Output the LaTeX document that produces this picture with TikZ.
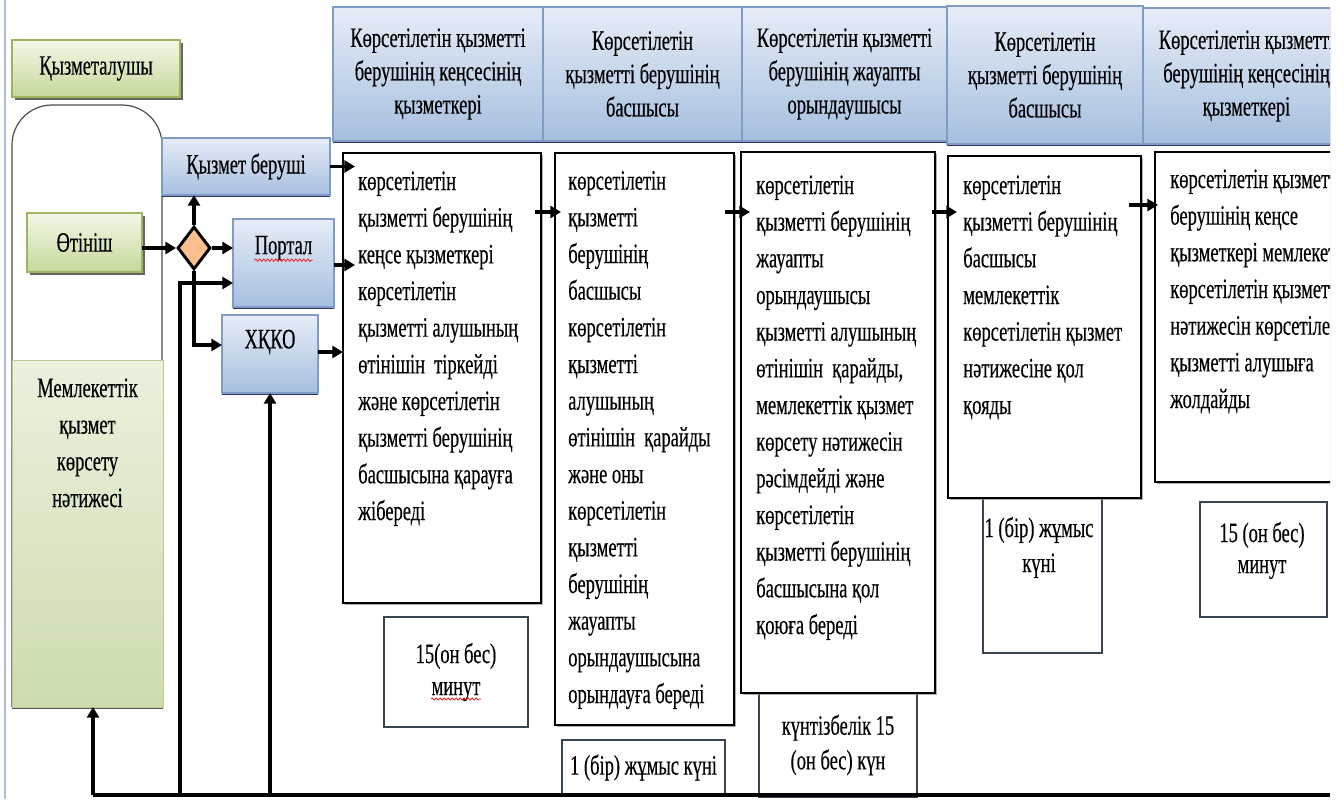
\documentclass[tikz,border=0pt]{standalone}
\usepackage{fontspec}
\setmainfont{Liberation Serif}[FakeStretch=0.66,FakeBold=0.3]
\usetikzlibrary{arrows.meta,shapes.geometric,decorations.pathmorphing,calc,shadows}
\newdimen\upx \upx=0.75pt
\definecolor{gtop}{HTML}{F4F8E8}
\definecolor{gbot}{HTML}{C4D89A}
\definecolor{gline}{HTML}{9CB660}
\definecolor{btop}{HTML}{E6EDF7}
\definecolor{bbot}{HTML}{A6BFDF}
\definecolor{bline}{HTML}{7F9CC5}
\definecolor{rtop}{HTML}{EAF1DE}
\definecolor{rbot}{HTML}{CDDCAE}
\definecolor{peach}{HTML}{F9BF8F}
\definecolor{pageline}{HTML}{A8BED8}
\definecolor{tline}{HTML}{3A4654}
\tikzset{
 sz/.style 2 args={minimum width=#1\upx, minimum height=#2\upx, inner sep=0pt, outer sep=0pt},
 txt/.style={font=\fontsize{21pt}{27.5pt}\selectfont, inner sep=0pt},
 htxt/.style={font=\fontsize{21pt}{25pt}\selectfont, align=center},
 greenbox/.style={draw=gline, line width=0.8pt, top color=gtop, bottom color=gbot,
   drop shadow={shadow xshift=2.2pt, shadow yshift=-2.2pt, fill=black!75, opacity=0.8}},
 bluebox/.style={draw=bline, line width=0.8pt, top color=btop, bottom color=bbot,
   drop shadow={shadow xshift=0pt, shadow yshift=-1.5pt, fill=black!70!blue, opacity=0.8}},
 resbox/.style={draw=gline!70, line width=0.5pt, top color=rtop, bottom color=rbot,
   drop shadow={shadow xshift=0pt, shadow yshift=-1.5pt, fill=black!80, opacity=0.8}},
 bodybox/.style={draw=black, line width=1.1pt, fill=white,
   drop shadow={shadow xshift=1.2pt, shadow yshift=-1.2pt, fill=black!45, opacity=0.7}},
 timebox/.style={draw=tline, line width=0.8pt, fill=white},
 arr/.style={line width=2.8pt, -{Triangle[length=8pt,width=9pt]}},
 busline/.style={line width=3pt},
 wavy/.style={red, line width=0.5pt, decorate, decoration={snake, amplitude=0.9pt, segment length=3pt}},
}
\begin{document}
\begin{tikzpicture}[x=0.75pt,y=-0.75pt]
\useasboundingbox (0,0) rectangle (1344,799);
\begin{scope}
\clip (0,0) rectangle (1330,799);
\draw[pageline, line width=0.8pt] (5,0) -- (5,799);
% left lane
\draw[line width=0.9pt, draw=black!70, rounded corners=30pt] (12,707) -- (12,105) -- (162,105) -- (162,707);
\node[greenbox, sz={168}{57}, txt] (client) at (96,68.5) {Қызметалушы};
\node[resbox, sz={151}{347}] (result) at (87.5,533.5) {};
\node[txt, align=center, anchor=base] (resultt) at (87.5,507) {Мемлекеттік\\қызмет\\көрсету\\нәтижесі};
\node[greenbox, sz={115}{59}, txt] (otinish) at (84.5,242.5) {Өтініш};
\node[bluebox, sz={168}{57}, txt] (beru) at (246,166.5) {Қызмет беруші};
\node[diamond, draw=black, line width=2.2pt, fill=peach, minimum width=33\upx, minimum height=43\upx, inner sep=0pt] (dia) at (194,248) {};
\node[bluebox, sz={101}{88}] (portal) at (283.5,263) {};
\node[txt] (portalt) at (283.5,248) {Портал};
\node[bluebox, sz={96}{78}] (hkko) at (270,354) {};
\node[txt] (hkkot) at (270,342) {ХҚКО};
% headers
\node[bluebox, sz={210}{134}, htxt] (h1) at (438,74) {Көрсетілетін қызметті\\берушінің кеңсесінің\\қызметкері};
\node[bluebox, sz={199}{134}, htxt] (h2) at (642.5,74) {Көрсетілетін\\қызметті берушінің\\басшысы};
\node[bluebox, sz={205}{134}, htxt] (h3) at (844.5,74) {Көрсетілетін қызметті\\берушінің жауапты\\орындаушысы};
\node[bluebox, sz={196}{138}, htxt] (h4) at (1045,75) {Көрсетілетін\\қызметті берушінің\\басшысы};
\node[bluebox, sz={207}{136}, htxt] (h5) at (1246.5,76) {Көрсетілетін қызметті\\берушінің кеңсесінің\\қызметкері};
% time boxes
\node[timebox, sz={144}{110}, htxt, font=\fontsize{21pt}{24pt}\selectfont] (t1) at (456,672) {15(он бес)\\минут};
\node[timebox, sz={163}{55}, txt] (t2) at (643.5,767.5) {1 (бір) жұмыс күні};
\node[timebox, sz={158}{104}, htxt, font=\fontsize{21pt}{26pt}\selectfont] (t3) at (838,745) {күнтізбелік 15\\(он бес) күн};
\node[timebox, sz={119}{156}] (t4) at (1042.5,575) {};
\node[txt, align=center, anchor=base, font=\fontsize{21pt}{26.25pt}\selectfont] (t4t) at (1039,572) {1 (бір) жұмыс\\күні};
\node[timebox, sz={127}{115}] (t5) at (1263.5,559.5) {};
\node[txt, align=center, anchor=base, font=\fontsize{21pt}{23.25pt}\selectfont] (t5t) at (1262,573) {15 (он бес)\\минут};
% body boxes
\node[bodybox, sz={198}{450}] (b1) at (442,378) {};
\node[bodybox, sz={179}{572}] (b2) at (644.5,439) {};
\node[bodybox, sz={194}{541}] (b3) at (838,422.5) {};
\node[bodybox, sz={193}{342}] (b4) at (1044.5,327) {};
\node[bodybox, sz={205}{330}] (b5) at (1257.5,317) {};
\node[txt, align=left, anchor=base west] (b1t) at (358,520) {көрсетілетін\\қызметті берушінің\\кеңсе қызметкері\\көрсетілетін\\қызметті алушының\\өтінішін\ \ тіркейді\\және көрсетілетін\\қызметті берушінің\\басшысына қарауға\\жібереді};
\node[txt, align=left, anchor=base west] (b2t) at (568,703) {көрсетілетін\\қызметті\\берушінің\\басшысы\\көрсетілетін\\қызметті\\алушының\\өтінішін\ \ қарайды\\және оны\\көрсетілетін\\қызметті\\берушінің\\жауапты\\орындаушысына\\орындауға береді};
\node[txt, align=left, anchor=base west] (b3t) at (756,634) {көрсетілетін\\қызметті берушінің\\жауапты\\орындаушысы\\қызметті алушының\\өтінішін\ \ қарайды,\\мемлекеттік қызмет\\көрсету нәтижесін\\рәсімдейді және\\көрсетілетін\\қызметті берушінің\\басшысына қол\\қоюға береді};
\node[txt, align=left, anchor=base west] (b4t) at (963,414) {көрсетілетін\\қызметті берушінің\\басшысы\\мемлекеттік\\көрсетілетін қызмет\\нәтижесіне қол\\қояды};
\node[txt, align=left, anchor=base west] (b5t) at (1170,408) {көрсетілетін қызметті\\берушінің кеңсе\\қызметкері мемлекеттік\\көрсетілетін қызметті\\нәтижесін көрсетілетін\\қызметті алушыға\\жолдайды};
% spell-check waves
\draw[wavy] ([yshift=-6\upx]portalt.base west) -- ([yshift=-6\upx]portalt.base east);
\draw[wavy] ($(t1.center)+(-25,27)$) -- ($(t1.center)+(25,27)$);
% connectors
\draw[arr] (otinish.east |- dia.west) -- (dia.west);
\draw[arr] (dia.north) -- (dia.north |- beru.south);
\draw[arr] (dia.east) -- (dia.east -| portal.west);
\draw[arr] (dia.south) |- ($(hkko.west)+(0,-9)$);
\draw[arr] (beru.east) -- ($(beru.east -| b1.west)+(12,0)$);
\draw[arr] ($(portal.east)+(0,2)$) -- ($(portal.east -| b1.west)+(12,2)$);
\draw[arr] ($(hkko.east)+(0,-2)$) -- ($(hkko.east -| b1.west)+(0,-2)$);
\draw[arr] ($(b1.north east)+(-6,59)$) -- ($(b2.north west)+(6,59)$);
\draw[arr] ($(b2.north east)+(-9,59)$) -- ($(b3.north west)+(9,60)$);
\draw[arr] ($(b3.north east)+(-3,60)$) -- ($(b4.north west)+(9,56)$);
\draw[arr] ($(b4.north east)+(-12,49)$) -- ($(b5.north west)+(3,53)$);
% bottom bus
\coordinate (busL) at (93,795);
\coordinate (busR) at (1330,795);
\coordinate (bus180) at (180,795);
\draw[busline] (busL) -- (busR);
\draw[arr] (busL) -- (busL |- result.south);
\draw[arr] (bus180) |- ($(portal.west)+(0,20)$);
\draw[arr] (hkko.south |- busL) -- (hkko.south);
\end{scope}
\end{tikzpicture}
\end{document}
